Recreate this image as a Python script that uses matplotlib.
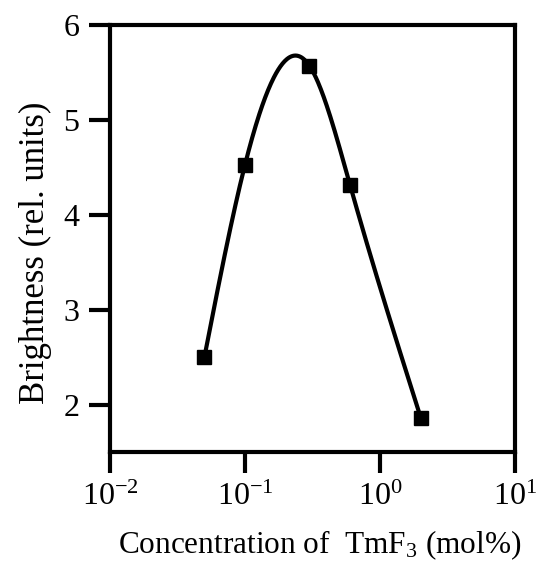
import numpy as np
import matplotlib.pyplot as plt
from matplotlib.ticker import FixedLocator, NullLocator

plt.rcParams['font.family'] = 'Liberation Serif'
plt.rcParams['mathtext.fontset'] = 'custom'
plt.rcParams['mathtext.rm'] = 'Liberation Serif'
plt.rcParams['mathtext.it'] = 'Liberation Serif:italic'

# data
conc = [0.05, 0.1, 0.3, 0.6, 2.0]
brightness = [2.5, 4.53, 5.57, 4.31, 1.86]

x_ticks = [0.01, 0.1, 1, 10]
x_ticklabels = ['10$^{-2}$', '10$^{-1}$', '10$^{0}$', '10$^{1}$']
y_ticks = [2, 3, 4, 5, 6]


def natural_spline(x, y, xs):
    # natural cubic spline through the measured points
    x = np.asarray(x, float)
    y = np.asarray(y, float)
    n = len(x)
    h = np.diff(x)
    A = np.zeros((n, n))
    b = np.zeros(n)
    A[0, 0] = A[-1, -1] = 1
    for i in range(1, n - 1):
        A[i, i - 1] = h[i - 1]
        A[i, i] = 2 * (h[i - 1] + h[i])
        A[i, i + 1] = h[i]
        b[i] = 6 * ((y[i + 1] - y[i]) / h[i] - (y[i] - y[i - 1]) / h[i - 1])
    M = np.linalg.solve(A, b)
    out = np.empty_like(xs)
    for k, t in enumerate(xs):
        i = min(max(np.searchsorted(x, t) - 1, 0), n - 2)
        a, c = x[i], x[i + 1]
        out[k] = (M[i] * (c - t) ** 3 / (6 * h[i]) + M[i + 1] * (t - a) ** 3 / (6 * h[i])
                  + (y[i] / h[i] - M[i] * h[i] / 6) * (c - t)
                  + (y[i + 1] / h[i] - M[i + 1] * h[i] / 6) * (t - a))
    return out


fig = plt.figure(figsize=(5.41, 5.67), dpi=100)
ax = fig.add_axes([0.2033, 0.2028, 0.749, 0.753])

lx = np.log10(conc)
xs = np.linspace(lx[0], lx[-1], 300)
ax.plot(10 ** xs, natural_spline(lx, brightness, xs), '-', color='black', lw=3)
ax.plot(conc, brightness, 's', color='black', ms=9.5)

ax.set_xscale('log')
ax.set_xlim(0.01, 10)
ax.set_ylim(1.5, 6)
ax.xaxis.set_major_locator(FixedLocator(x_ticks))
ax.xaxis.set_minor_locator(NullLocator())
ax.set_xticklabels(x_ticklabels)
ax.set_yticks(y_ticks)

for s in ax.spines.values():
    s.set_linewidth(3)
ax.tick_params(which='major', direction='out', length=15, width=3,
               labelsize=23, pad=7)

ax.set_xlabel('Concentration of  TmF$_3$ (mol%)', fontsize=22.5, labelpad=12)
ax.set_ylabel('Brightness (rel. units)', fontsize=25, labelpad=8)
ax.xaxis.label.set_x(0.518)
ax.yaxis.label.set_y(0.466)

fig.savefig('out.png', dpi=100)
